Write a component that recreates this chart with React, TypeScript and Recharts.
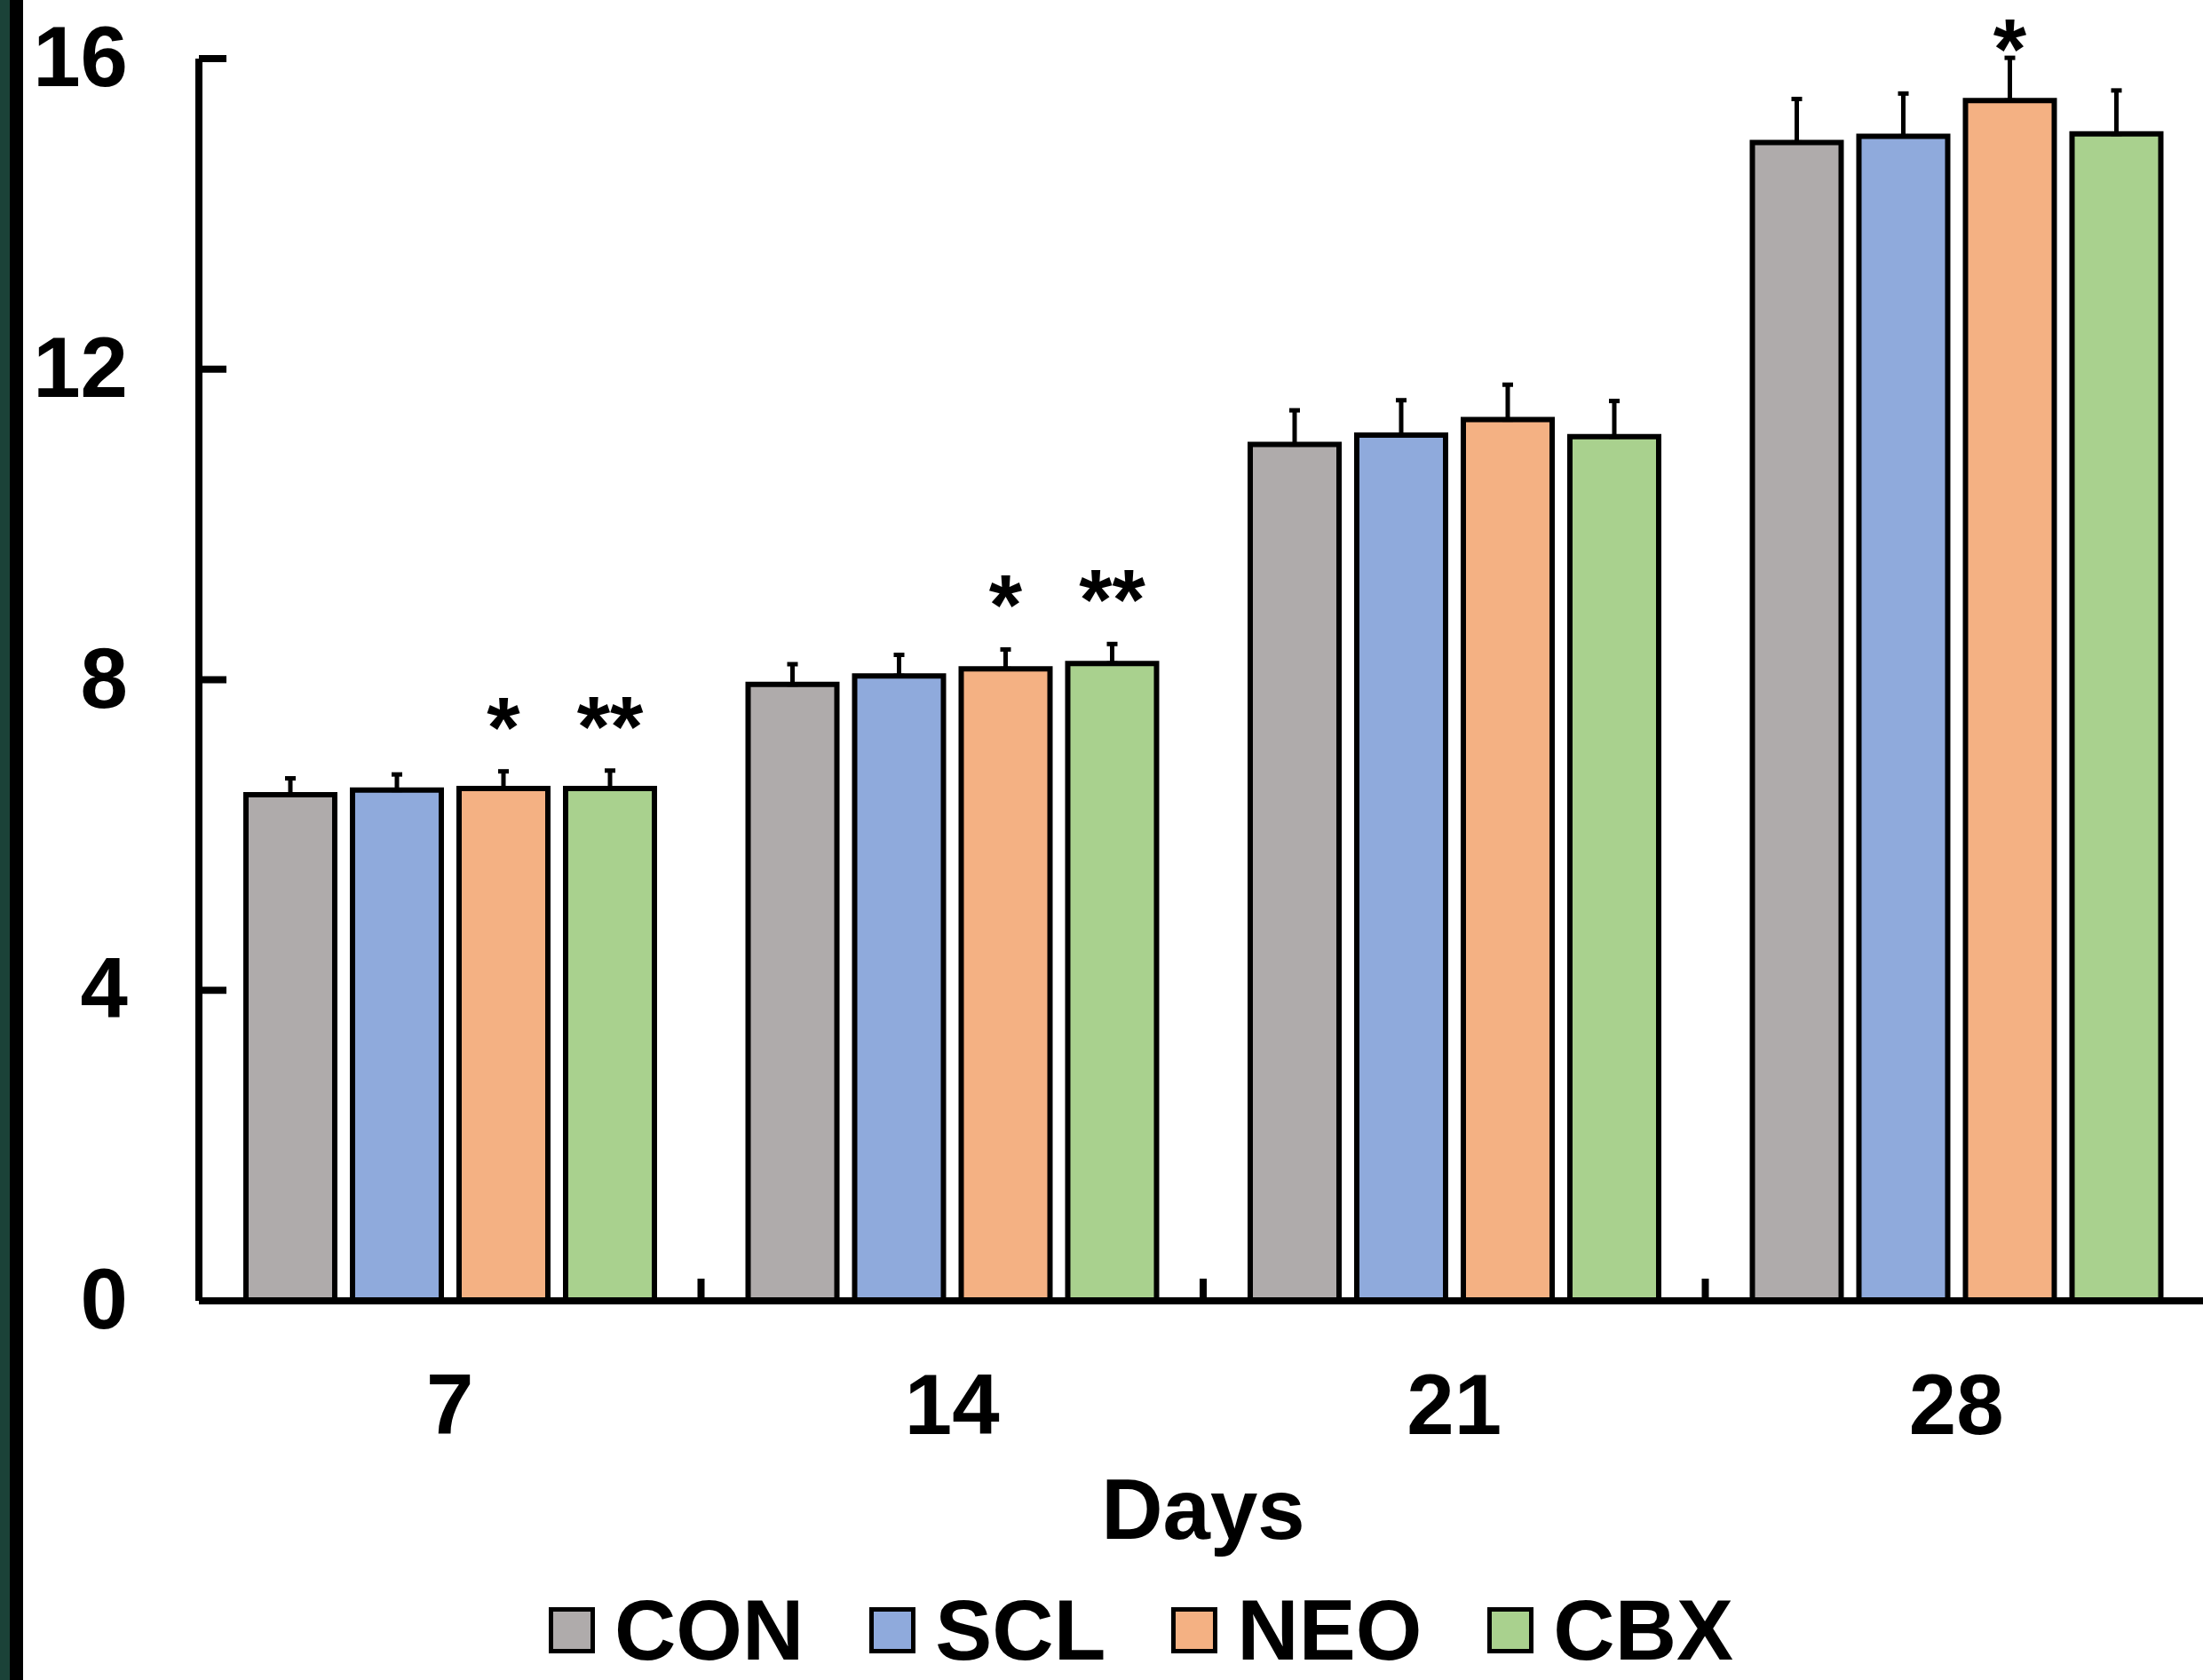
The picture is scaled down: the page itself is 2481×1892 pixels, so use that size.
import {
  BarChart,
  Bar,
  XAxis,
  YAxis,
  ErrorBar,
  LabelList,
  Legend,
} from "recharts";

// Days after start
const days = ["7", "14", "21", "28"];

// Group means
const conValues = [6.52, 7.94, 11.03, 14.92];
const sclValues = [6.58, 8.05, 11.15, 15.0];
const neoValues = [6.6, 8.14, 11.35, 15.46];
const cbxValues = [6.6, 8.21, 11.13, 15.03];

// Upper error (SD / SEM)
const conErrors = [0.21, 0.26, 0.44, 0.56];
const sclErrors = [0.2, 0.27, 0.45, 0.55];
const neoErrors = [0.22, 0.25, 0.45, 0.55];
const cbxErrors = [0.23, 0.25, 0.46, 0.56];

// Significance marks vs CON
const neoMarks = ["*", "*", "", "*"];
const cbxMarks = ["**", "**", "", ""];

const seriesNames = ["CON", "SCL", "NEO", "CBX"];
const seriesColors = ["#afabab", "#8faadc", "#f4b183", "#a9d18e"];

const yTicks = [0, 4, 8, 12, 16];

const W = 2481;
const H = 1892;
const FONT = "'Liberation Sans', Arial, Helvetica, sans-serif";
const FONT_SIZE = 96;
const OUTLINE = 6;

const chartData = days.map((day, i) => ({
  day,
  con: conValues[i],
  scl: sclValues[i],
  neo: neoValues[i],
  cbx: cbxValues[i],
  conErr: [0, conErrors[i]],
  sclErr: [0, sclErrors[i]],
  neoErr: [0, neoErrors[i]],
  cbxErr: [0, cbxErrors[i]],
}));

function YTick(props: any) {
  const { x, y, payload } = props;
  return (
    <g>
      <line x1={x} x2={x + 31} y1={y} y2={y} stroke="#000" strokeWidth={8} />
      <text
        x={x - 80}
        y={y}
        dy={31}
        textAnchor="end"
        fontFamily={FONT}
        fontWeight={700}
        fontSize={FONT_SIZE}
        fill="#000"
      >
        {payload.value}
      </text>
    </g>
  );
}

function XTick(props: any) {
  const { x, y, payload, index } = props;
  const half = payload?.offset || (W - 224) / 8;
  return (
    <g>
      {index > 0 && (
        <line x1={x - half} x2={x - half} y1={y} y2={y - 25} stroke="#000" strokeWidth={8} />
      )}
      <text
        x={x}
        y={y + 150}
        textAnchor="middle"
        fontFamily={FONT}
        fontWeight={700}
        fontSize={FONT_SIZE}
        fill="#000"
      >
        {payload.value}
      </text>
    </g>
  );
}

// star above the error bar cap
function starLabel(marks: string[], errors: number[]) {
  return (props: any) => {
    const { x, y, width, height, value, index } = props;
    const mark = marks[index];
    if (!mark) return null;
    const pxPerUnit = height / value;
    const capY = y - errors[index] * pxPerUnit;
    const inkTop = Math.max(25, capY - 80);
    return (
      <text
        x={x + width / 2}
        y={inkTop + 63}
        textAnchor="middle"
        fontFamily={FONT}
        fontWeight={700}
        fontSize={FONT_SIZE}
        fill="#000"
      >
        {mark}
      </text>
    );
  };
}

function LegendContent() {
  return (
    <div
      style={{
        height: 100,
        width: W,
        display: "flex",
        alignItems: "center",
        paddingLeft: 618,
        paddingBottom: 12,
        boxSizing: "border-box",
        fontFamily: FONT,
        fontWeight: 700,
        fontSize: FONT_SIZE,
        color: "#000",
      }}
    >
      {seriesNames.map((name, i) => (
        <div key={name} style={{ display: "flex", alignItems: "center", marginRight: 74 }}>
          <div
            style={{
              width: 52,
              height: 52,
              boxSizing: "border-box",
              border: "5px solid #000",
              background: seriesColors[i],
              marginRight: 22,
            }}
          />
          <span style={{ lineHeight: "76px", display: "inline-block", height: 76 }}>{name}</span>
        </div>
      ))}
    </div>
  );
}

export default function App() {
  return (
    <div style={{ position: "relative", width: W, height: H, background: "#fff", overflow: "hidden" }}>
      <style>{`body{margin:0;}`}</style>
      <BarChart
        width={W}
        height={H}
        data={chartData}
        margin={{ top: 66, right: -5, left: 0, bottom: 0 }}
        barSize={100}
        barGap={20}
      >
        <XAxis
          dataKey="day"
          height={327}
          interval={0}
          axisLine={{ stroke: "#000", strokeWidth: 8 }}
          tickLine={false}
          tickSize={0}
          tickMargin={0}
          tick={<XTick />}
          label={{
            value: "Days",
            position: "insideBottom",
            offset: 59,
            fontSize: FONT_SIZE,
            fontWeight: 700,
            fontFamily: FONT,
            fill: "#000",
          }}
        />
        <YAxis
          width={224}
          domain={[0, 16]}
          ticks={yTicks}
          allowDataOverflow
          axisLine={{ stroke: "#000", strokeWidth: 8 }}
          tickLine={false}
          tickSize={0}
          tickMargin={0}
          tick={<YTick />}
        />
        <Legend verticalAlign="bottom" content={<LegendContent />} wrapperStyle={{ left: 0, height: 100 }} />

        <Bar dataKey="con" name="CON" fill={seriesColors[0]} stroke="#000" strokeWidth={OUTLINE} isAnimationActive={false}>
          <ErrorBar dataKey="conErr" width={6} strokeWidth={5} stroke="#000" direction="y" isAnimationActive={false} />
        </Bar>
        <Bar dataKey="scl" name="SCL" fill={seriesColors[1]} stroke="#000" strokeWidth={OUTLINE} isAnimationActive={false}>
          <ErrorBar dataKey="sclErr" width={6} strokeWidth={5} stroke="#000" direction="y" isAnimationActive={false} />
        </Bar>
        <Bar dataKey="neo" name="NEO" fill={seriesColors[2]} stroke="#000" strokeWidth={OUTLINE} isAnimationActive={false}>
          <ErrorBar dataKey="neoErr" width={6} strokeWidth={5} stroke="#000" direction="y" isAnimationActive={false} />
          <LabelList dataKey="neo" content={starLabel(neoMarks, neoErrors)} />
        </Bar>
        <Bar dataKey="cbx" name="CBX" fill={seriesColors[3]} stroke="#000" strokeWidth={OUTLINE} isAnimationActive={false}>
          <ErrorBar dataKey="cbxErr" width={6} strokeWidth={5} stroke="#000" direction="y" isAnimationActive={false} />
          <LabelList dataKey="cbx" content={starLabel(cbxMarks, cbxErrors)} />
        </Bar>
      </BarChart>
      <div style={{ position: "absolute", left: 0, top: 0, width: 11, height: H, background: "#1b4238" }} />
      <div style={{ position: "absolute", left: 11, top: 0, width: 15, height: H, background: "#000" }} />
    </div>
  );
}
